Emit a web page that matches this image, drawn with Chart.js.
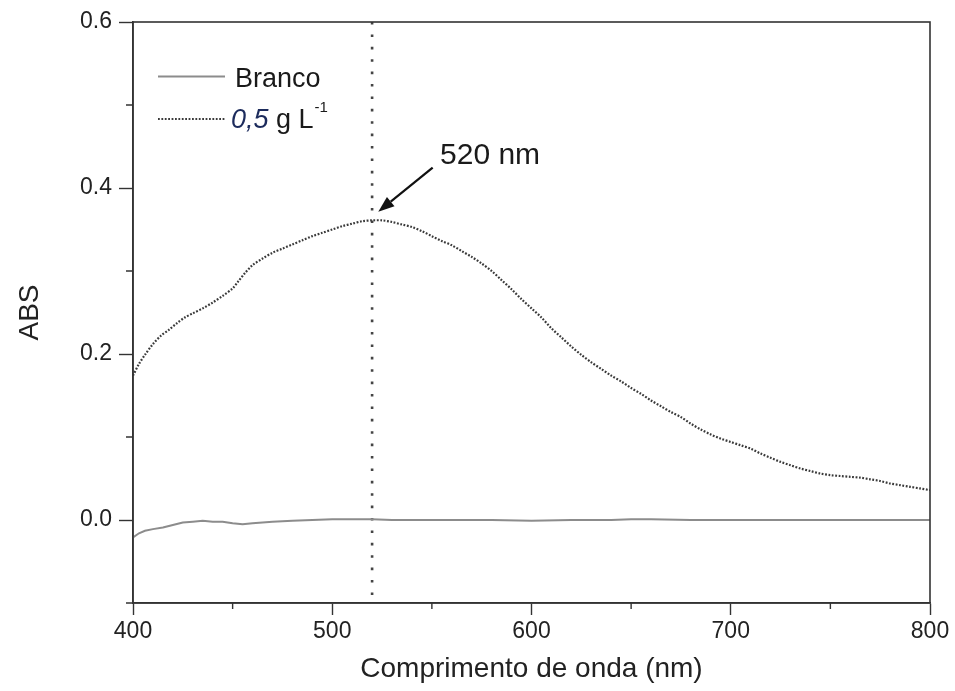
<!DOCTYPE html>
<html>
<head>
<meta charset="utf-8">
<title>ABS x Comprimento de onda</title>
<script src="https://cdn.jsdelivr.net/npm/chart.js@4"></script>
<style>
  html, body { margin: 0; padding: 0; background: #ffffff; }
  canvas { display: block; }
</style>
</head>
<body>
<canvas id="chart" width="955" height="691"></canvas>
<script>
// Spectrum of the blank (Branco)
const brancoNm = [400,403,406,410,415,420,425,430,435,440,445,450,455,460,465,470,480,490,500,510,520,530,540,550,560,580,600,620,640,650,660,680,700,720,740,760,780,800];
const brancoAbs = [-0.021,-0.016,-0.013,-0.011,-0.009,-0.006,-0.003,-0.002,-0.001,-0.002,-0.002,-0.004,-0.005,-0.004,-0.003,-0.002,-0.001,0.000,0.001,0.001,0.001,0.000,0.000,0.000,0.000,0.000,-0.001,0.000,0.000,0.001,0.001,0.000,0.000,0.000,0.000,0.000,0.000,0.000];

// Spectrum of the 0,5 g L-1 sample
const amostraNm = [400,403,406,410,414,418,422,426,430,435,440,445,450,453,456,460,465,470,475,480,485,490,495,500,505,510,515,520,525,530,535,540,545,550,555,560,565,570,575,580,585,590,595,600,605,610,615,620,625,630,635,640,645,650,655,660,665,670,675,680,685,690,695,700,705,710,715,720,725,730,735,740,745,750,755,760,765,770,775,780,785,790,795,800];
const amostraAbs = [0.174,0.188,0.199,0.212,0.222,0.229,0.237,0.244,0.249,0.255,0.262,0.270,0.279,0.288,0.297,0.307,0.315,0.322,0.327,0.332,0.337,0.342,0.346,0.350,0.354,0.357,0.360,0.361,0.361,0.359,0.356,0.353,0.348,0.342,0.336,0.331,0.324,0.317,0.309,0.300,0.289,0.278,0.266,0.255,0.244,0.231,0.220,0.209,0.199,0.190,0.182,0.174,0.167,0.159,0.152,0.144,0.137,0.130,0.124,0.116,0.109,0.103,0.098,0.094,0.090,0.086,0.080,0.075,0.070,0.066,0.062,0.059,0.056,0.054,0.053,0.052,0.051,0.049,0.047,0.044,0.042,0.040,0.038,0.036];

// Axis ranges and ticks
const xRange = [400, 800];
const yRange = [-0.1, 0.6];
const xMajorTicks = [400, 500, 600, 700, 800];
const xMinorTicks = [450, 550, 650, 750];
const yMajorTicks = [0.0, 0.2, 0.4, 0.6];
const yMinorTicks = [-0.1, 0.1, 0.3, 0.5];

// Peak marker
const peakNm = 520;
const peakLabel = '520 nm';

const FONT = '"Liberation Sans", Arial, Helvetica, sans-serif';
const AXIS_COLOR = '#333333';

const toPoints = (xs, ys) => xs.map((x, i) => ({ x: x, y: ys[i] }));

const isMajor = (list, v) => list.some(t => Math.abs(t - v) < 1e-6);

// Box frame plus short minor ticks
const framePlugin = {
  id: 'frame',
  afterDraw(chart) {
    const { ctx, chartArea: a, scales } = chart;
    ctx.save();
    ctx.strokeStyle = AXIS_COLOR;
    ctx.lineWidth = 1.6;
    ctx.strokeRect(a.left, a.top, a.right - a.left, a.bottom - a.top);
    ctx.lineWidth = 1.4;
    ctx.beginPath();
    xMinorTicks.forEach(v => {
      const px = scales.x.getPixelForValue(v);
      ctx.moveTo(px, a.bottom);
      ctx.lineTo(px, a.bottom + 6);
    });
    yMinorTicks.forEach(v => {
      const py = scales.y.getPixelForValue(v);
      ctx.moveTo(a.left, py);
      ctx.lineTo(a.left - 7, py);
    });
    ctx.stroke();
    ctx.restore();
  }
};

// Dotted vertical line at the absorption maximum
const peakLinePlugin = {
  id: 'peakLine',
  beforeDatasetsDraw(chart) {
    const { ctx, chartArea: a, scales } = chart;
    const px = scales.x.getPixelForValue(peakNm);
    ctx.save();
    ctx.strokeStyle = '#444444';
    ctx.lineWidth = 2.6;
    ctx.setLineDash([2.6, 9.8]);
    ctx.beginPath();
    ctx.moveTo(px, a.top);
    ctx.lineTo(px, a.bottom);
    ctx.stroke();
    ctx.restore();
  }
};

// Arrow and label pointing at the peak, plus the legend box
const annotationPlugin = {
  id: 'notes',
  afterDraw(chart) {
    const { ctx, scales } = chart;
    const X = v => scales.x.getPixelForValue(v);
    const Y = v => scales.y.getPixelForValue(v);
    ctx.save();

    // arrow
    const tx = X(523.1), ty = Y(0.3715);
    const sx = X(550.4), sy = Y(0.4245);
    const ang = Math.atan2(ty - sy, tx - sx);
    const headLen = 16, headW = 6;
    const bx = tx - headLen * Math.cos(ang), by = ty - headLen * Math.sin(ang);
    ctx.strokeStyle = '#111111';
    ctx.fillStyle = '#111111';
    ctx.lineWidth = 2.2;
    ctx.beginPath();
    ctx.moveTo(sx, sy);
    ctx.lineTo(bx, by);
    ctx.stroke();
    ctx.beginPath();
    ctx.moveTo(tx, ty);
    ctx.lineTo(bx + headW * Math.sin(ang), by - headW * Math.cos(ang));
    ctx.lineTo(bx - headW * Math.sin(ang), by + headW * Math.cos(ang));
    ctx.closePath();
    ctx.fill();

    ctx.font = '30px ' + FONT;
    ctx.textBaseline = 'alphabetic';
    ctx.textAlign = 'left';
    ctx.fillStyle = '#1a1a1a';
    ctx.fillText(peakLabel, X(554.1), Y(0.429));

    // legend
    const lx0 = 158, lx1 = 225;
    ctx.strokeStyle = '#8c8c8c';
    ctx.lineWidth = 2;
    ctx.beginPath();
    ctx.moveTo(lx0, 76.5);
    ctx.lineTo(lx1, 76.5);
    ctx.stroke();

    ctx.strokeStyle = '#3a3a3a';
    ctx.lineWidth = 2;
    ctx.setLineDash([1.8, 1.6]);
    ctx.beginPath();
    ctx.moveTo(lx0, 119);
    ctx.lineTo(lx1, 119);
    ctx.stroke();
    ctx.setLineDash([]);

    ctx.font = '27px ' + FONT;
    ctx.fillStyle = '#1a1a1a';
    ctx.fillText(chart.data.datasets[0].label, 235, 87);

    let x = 231;
    ctx.font = 'italic 27px ' + FONT;
    ctx.fillStyle = '#1c2b5c';
    ctx.fillText('0,5', x, 128);
    x += ctx.measureText('0,5').width;
    ctx.font = '27px ' + FONT;
    ctx.fillStyle = '#1a1a1a';
    ctx.fillText(' g L', x, 128);
    x += ctx.measureText(' g L').width + 1;
    ctx.font = '15px ' + FONT;
    ctx.fillText('-1', x, 112);

    ctx.restore();
  }
};

new Chart(document.getElementById('chart'), {
  type: 'line',
  data: {
    datasets: [
      {
        label: 'Branco',
        data: toPoints(brancoNm, brancoAbs),
        borderColor: '#8c8c8c',
        borderWidth: 2,
        pointRadius: 0,
        tension: 0,
        fill: false
      },
      {
        label: '0,5 g L-1',
        data: toPoints(amostraNm, amostraAbs),
        borderColor: '#3a3a3a',
        borderWidth: 2.2,
        borderDash: [1.8, 1.6],
        pointRadius: 0,
        tension: 0.3,
        fill: false
      }
    ]
  },
  options: {
    responsive: false,
    animation: false,
    devicePixelRatio: 1,
    layout: { padding: { top: 22, right: 25, left: 0, bottom: 0 } },
    plugins: {
      legend: { display: false },
      tooltip: { enabled: false }
    },
    scales: {
      x: {
        type: 'linear',
        min: xRange[0],
        max: xRange[1],
        afterFit(scale) { scale.height = 88; },
        ticks: {
          stepSize: 50,
          autoSkip: false,
          maxRotation: 0,
          padding: 3,
          color: '#222222',
          font: { family: FONT, size: 23 },
          callback: v => isMajor(xMajorTicks, v) ? String(v) : ''
        },
        grid: {
          drawOnChartArea: false,
          tickLength: 12,
          tickWidth: 1.4,
          tickColor: ctx => isMajor(xMajorTicks, ctx.tick.value) ? AXIS_COLOR : 'rgba(0,0,0,0)'
        },
        border: { display: true, color: AXIS_COLOR, width: 1.6 },
        title: {
          display: true,
          text: 'Comprimento de onda (nm)',
          color: '#222222',
          font: { family: FONT, size: 28 },
          padding: { top: 5, bottom: 5 }
        }
      },
      y: {
        type: 'linear',
        min: yRange[0],
        max: yRange[1],
        afterFit(scale) { scale.width = 133; },
        ticks: {
          stepSize: 0.1,
          autoSkip: false,
          padding: 7,
          color: '#222222',
          font: { family: FONT, size: 23 },
          callback: v => isMajor(yMajorTicks, v) ? (Math.abs(v) < 1e-9 ? '0.0' : v.toFixed(1)) : ''
        },
        grid: {
          drawOnChartArea: false,
          tickLength: 14,
          tickWidth: 1.4,
          tickColor: ctx => isMajor(yMajorTicks, ctx.tick.value) ? AXIS_COLOR : 'rgba(0,0,0,0)'
        },
        border: { display: true, color: AXIS_COLOR, width: 1.6 },
        title: {
          display: true,
          text: 'ABS',
          color: '#222222',
          font: { family: FONT, size: 28 },
          padding: { top: 13, bottom: 13 }
        }
      }
    }
  },
  plugins: [framePlugin, peakLinePlugin, annotationPlugin]
});
</script>
</body>
</html>
